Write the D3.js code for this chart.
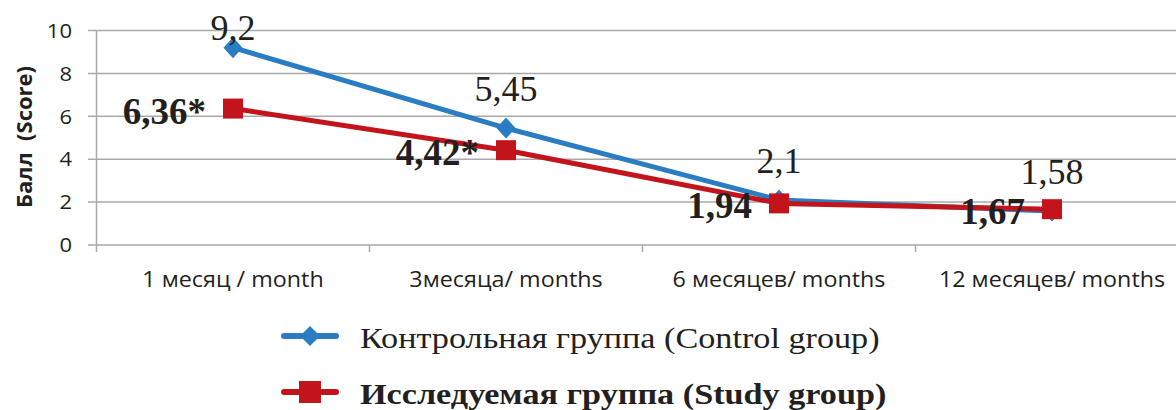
<!DOCTYPE html>
<html><head><meta charset="utf-8">
<script src="https://cdn.jsdelivr.net/npm/d3@7"></script>
<style>body{margin:0;background:#fff}</style>
</head><body>
<svg id="c" width="1176" height="410"></svg>
<script>
const categories = ["1 месяц / month", "3месяца/ months", "6 месяцев/ months", "12 месяцев/ months"];
const controlValues = [9.2, 5.45, 2.1, 1.58];
const studyValues = [6.36, 4.42, 1.94, 1.67];
const controlLabels = ["9,2", "5,45", "2,1", "1,58"];
const studyLabels = ["6,36*", "4,42*", "1,94", "1,67"];
const yTicks = [0, 2, 4, 6, 8, 10];
const seriesNames = ["Контрольная группа (Control group)", "Исследуемая группа (Study group)"];
const yTitle = "Балл  (Score)";

const svg = d3.select("#c");
const blue = "#2a7cc3", red = "#c3141c", grid = "#a9a9a9", ink = "#231f20";
const x = d3.scaleBand().domain(categories).range([96.5, 1188.5]);
const y = d3.scaleLinear().domain([0, 10]).range([245, 30.5]);
const sans = "Open Sans, sans-serif", serif = "Liberation Serif, Times New Roman, serif";

// grid
svg.append("g").selectAll("line").data(yTicks).join("line")
  .attr("x1", 88).attr("x2", 1176).attr("y1", d => y(d)).attr("y2", d => y(d))
  .attr("stroke", grid).attr("stroke-width", 1.5);
svg.append("line").attr("x1", 96.5).attr("x2", 96.5).attr("y1", y(10)).attr("y2", 252)
  .attr("stroke", grid).attr("stroke-width", 1.5);
// y tick labels
svg.append("g").selectAll("text").data(yTicks).join("text")
  .attr("transform", d => `translate(72,${y(d)}) scale(1.1,1)`)
  .attr("dy", "0.36em").attr("text-anchor", "end")
  .attr("font-family", sans).attr("font-size", 20).attr("fill", ink)
  .text(d => d);
// x category ticks
const bounds = categories.slice(1).map(c => x(c));
svg.append("g").selectAll("line").data(bounds).join("line")
  .attr("x1", d => d).attr("x2", d => d).attr("y1", 245).attr("y2", 252)
  .attr("stroke", grid).attr("stroke-width", 1.5);
// x labels
svg.append("g").selectAll("text").data(categories).join("text")
  .attr("transform", d => `translate(${x(d) + x.bandwidth() / 2},287) scale(1.06,1)`)
  .attr("text-anchor", "middle")
  .attr("font-family", sans).attr("font-size", 22).attr("fill", ink)
  .text(d => d);
// y title
svg.append("text").attr("transform", "translate(32,137) rotate(-90)").attr("text-anchor", "middle")
  .attr("font-family", sans).attr("font-weight", "bold").attr("font-size", 22).attr("fill", ink)
  .text(yTitle.replace(/ {2}/g, "\u00a0\u00a0"));

const cx = (d, i) => x(categories[i]) + x.bandwidth() / 2;
const line = d3.line().x((d, i) => cx(d, i)).y(d => y(d));
const diamondPath = (w, h) => `M0,${-h/2}L${w/2},0L0,${h/2}L${-w/2},0Z`;

// control series
svg.append("path").datum(controlValues).attr("d", line).attr("fill", "none")
  .attr("stroke", blue).attr("stroke-width", 5).attr("stroke-linejoin", "round");
svg.append("g").selectAll("path").data(controlValues).join("path")
  .attr("d", diamondPath(19, 21)).attr("transform", (d, i) => `translate(${cx(d, i)},${y(d)})`)
  .attr("fill", blue);
// study series
svg.append("path").datum(studyValues).attr("d", line).attr("fill", "none")
  .attr("stroke", red).attr("stroke-width", 5).attr("stroke-linejoin", "round");
svg.append("g").selectAll("rect").data(studyValues).join("rect")
  .attr("x", (d, i) => cx(d, i) - 10).attr("y", d => y(d) - 10).attr("width", 20).attr("height", 20)
  .attr("fill", red);

// labels
svg.append("g").selectAll("text").data(controlValues).join("text")
  .attr("x", (d, i) => cx(d, i)).attr("y", d => Math.max(y(d) - 27, 40)).attr("text-anchor", "middle")
  .attr("font-family", serif).attr("font-size", 36).attr("fill", ink)
  .text((d, i) => controlLabels[i]);
svg.append("g").selectAll("text").data(studyValues).join("text")
  .attr("x", (d, i) => cx(d, i) - 27).attr("y", d => y(d) + 15).attr("text-anchor", "end")
  .attr("font-family", serif).attr("font-weight", "bold").attr("font-size", 37).attr("fill", ink)
  .text((d, i) => studyLabels[i]);

// legend
const leg = svg.append("g");
const ly = [336, 392];
leg.append("line").attr("x1", 284).attr("x2", 336).attr("y1", ly[0]).attr("y2", ly[0]).attr("stroke", blue).attr("stroke-width", 6).attr("stroke-linecap", "round");
leg.append("path").attr("d", diamondPath(20, 20)).attr("transform", `translate(310,${ly[0]})`).attr("fill", blue);
leg.append("line").attr("x1", 284).attr("x2", 336).attr("y1", ly[1]).attr("y2", ly[1]).attr("stroke", red).attr("stroke-width", 6).attr("stroke-linecap", "round");
leg.append("rect").attr("x", 299).attr("y", ly[1] - 11).attr("width", 22).attr("height", 22).attr("fill", red);
leg.append("text").attr("transform", `translate(360,${ly[0] + 12}) scale(1.14,1)`)
  .attr("font-family", serif).attr("font-size", 30).attr("fill", ink).text(seriesNames[0]);
leg.append("text").attr("transform", `translate(360,${ly[1] + 12}) scale(1.14,1)`)
  .attr("font-family", serif).attr("font-weight", "bold").attr("font-size", 30).attr("fill", ink).text(seriesNames[1]);
</script>
</body></html>
